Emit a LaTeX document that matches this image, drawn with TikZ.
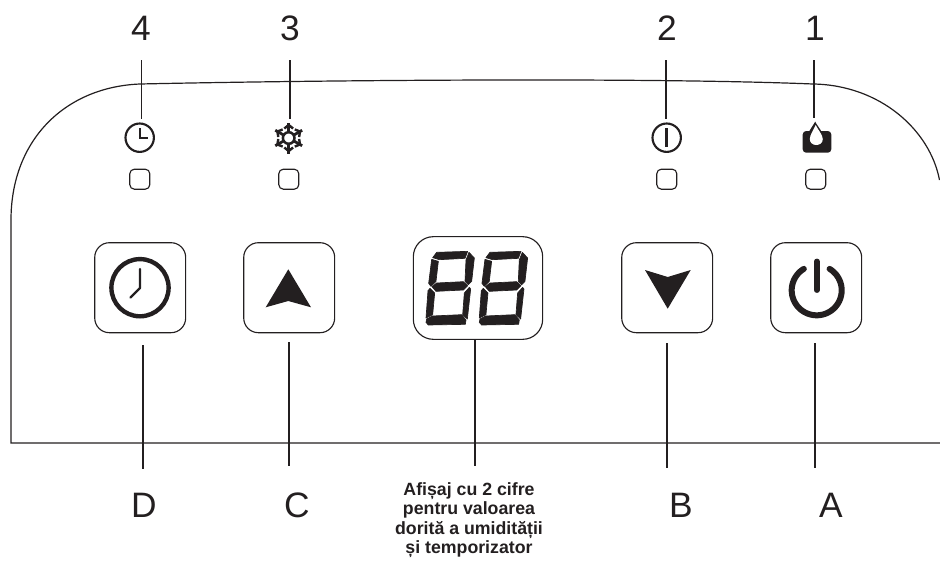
\documentclass[tikz,border=0pt]{standalone}
\usepackage{fontspec}
\setmainfont{Liberation Sans}
\definecolor{ink}{HTML}{231F20}
\tikzset{
  every path/.style={color=ink},
  thinline/.style={draw=ink,line width=0.9pt},
  keybox/.style={draw=ink,line width=0.85pt,rounded corners=11pt,minimum width=68.2pt,minimum height=67.5pt,inner sep=0pt},
  dispbox/.style={draw=ink,line width=0.85pt,rounded corners=15pt,minimum width=97pt,minimum height=77pt,inner sep=0pt},
  ledbox/.style={draw=ink,line width=0.85pt,rounded corners=3.4pt,minimum width=15pt,minimum height=15pt,inner sep=0pt},
  biglabel/.style={font=\fontsize{26.5}{30}\selectfont,text=ink,inner sep=0pt},
  caption/.style={font=\fontsize{13.3}{14.6}\selectfont\bfseries,text=ink,align=center,inner sep=0pt},
  seg/.style={fill=ink,draw=ink,line width=0.5pt,line join=round}
}
\newcommand{\sevenseg}{%
  \path[seg] (38,41)--(50,25)--(143,22)--(135,43)--(58,47)--cycle;
  \path[seg] (147,25)--(163,42)--(155,112)--(145,122)--(135,112)--(138,48)--cycle;
  \path[seg] (35,46)--(55,52)--(48,112)--(33,127)--(26,118)--cycle;
  \path[seg] (36,128)--(50,117)--(130,113)--(143,125)--(130,138)--(48,142)--cycle;
  \path[seg] (24,140)--(30,133)--(44,147)--(38,212)--(18,222)--cycle;
  \path[seg] (148,130)--(152,135)--(142,225)--(128,212)--(133,147)--cycle;
  \path[seg] (20,225)--(37,216)--(125,212)--(138,228)--(136,241)--(25,243)--(18,235)--cycle;
}
\begin{document}
\begin{tikzpicture}[x=0.75pt,y=-0.75pt]
\useasboundingbox (0,0) rectangle (940,561);
% body outline
\draw[thinline] (940,443) -- (11,443) -- (11,220)
  .. controls (11,140) and (65,87) .. (140,84)
  .. controls (300,80.5) and (640,77) .. (813,84)
  .. controls (880,85) and (930,130) .. (939.5,180);
% top labels
\node[biglabel] (n4) at (141,28) {4};
\node[biglabel] (n3) at (290,28) {3};
\node[biglabel] (n2) at (667,28) {2};
\node[biglabel] (n1) at (815,28) {1};
% keys and display
\node[keybox] (kD) at (140.2,287.7) {};
\node[keybox] (kC) at (289.2,287.7) {};
\node[dispbox] (disp) at (478,288) {};
\node[keybox] (kB) at (667.2,287.7) {};
\node[keybox] (kA) at (816.2,287.7) {};
% LEDs
\node[ledbox] (ld4) at (139.8,179.2) {};
\node[ledbox] (ld3) at (288.8,179.2) {};
\node[ledbox] (ld2) at (666.8,179.2) {};
\node[ledbox] (ld1) at (815.8,179.2) {};
% bottom labels
\node[biglabel] (lD) at (144,505) {D};
\node[biglabel] (lC) at (297,505) {C};
\node[biglabel] (lB) at (681,505) {B};
\node[biglabel] (lA) at (831,505) {A};
\node[caption] (cap) at (469,520) {Afișaj cu 2 cifre\\pentru valoarea\\dorită a umidității\\și temporizator};
% leader ends
\coordinate (t4a) at (141.7,60); \coordinate (t4b) at (141.7,119);
\coordinate (t3a) at (290,60);   \coordinate (t3b) at (290,119);
\coordinate (t2a) at (666,60);   \coordinate (t2b) at (666,119);
\coordinate (t1a) at (814,60);   \coordinate (t1b) at (814,118);
\coordinate (bDa) at (143,345);  \coordinate (bDb) at (143,469);
\coordinate (bCa) at (289,342);  \coordinate (bCb) at (289,466);
\coordinate (bMa) at (475,340);  \coordinate (bMb) at (475,466);
\coordinate (bBa) at (667,343);  \coordinate (bBb) at (667,468);
\coordinate (bAa) at (815,343);  \coordinate (bAb) at (815,468);
\foreach \a/\b in {t4a/t4b,t3a/t3b,t2a/t2b,t1a/t1b,bDa/bDb,bCa/bCb,bMa/bMb,bBa/bBb,bAa/bAb}
  \draw[thinline] (\a) -- (\b);
% small clock icon
\draw[line width=1.6pt] (139.7,137.7) circle (14.2);
\draw[line width=1.8pt] (140,128) -- (140,138) -- (147.5,138);
% snowflake icon
\draw[line width=1.9pt] (288.7,138) circle (5.8);
\foreach \ang in {30,90,150,210,270,330}{
  \begin{scope}[shift={(288.7,138)},rotate=\ang]
    \draw[line width=2.1pt] (6,0) -- (15.5,0);
    \draw[line width=1.8pt] (9.5,-4.4) -- (13,0) -- (9.5,4.4);
  \end{scope}
}
% on/off icon
\draw[line width=1.6pt] (666.7,137.7) circle (14.2);
\draw[line width=2.1pt] (666.7,128) -- (666.7,147);
% humidity icon
\fill[ink,rounded corners=2.6pt] (802.7,131) rectangle (831.3,152.7);
\fill[ink] (815.2,121.5) .. controls (817,126) and (825,134) .. (824,140) -- (807,140) .. controls (806,134) and (813,126) .. (815.2,121.5);
\fill[white] (815.7,125) .. controls (817.5,129) and (822.8,135) .. (822.8,139) .. controls (822.8,147) and (809.8,147) .. (809.8,139) .. controls (809.8,135) and (814,129) .. (815.7,125);
% big clock
\draw[line width=3.3pt] (140,287.7) circle (28.6);
\draw[line width=1.7pt,line cap=round,line join=round] (140,269) -- (140,288) -- (130.5,297.5);
% arrows
\fill[ink] (288.3,269.3) -- (311,307.3) -- (288.3,301) -- (265.7,307.3) -- cycle;
\fill[ink] (667.7,308.7) -- (690.7,270) -- (667.7,277) -- (645,270) -- cycle;
% power symbol
\draw[line width=4.5pt,line cap=round,domain=-59:239,samples=60,smooth,variable=\t] plot ({816.7+25*cos(\t)},{290.3+25*sin(\t)});
\draw[line width=4.4pt,line cap=round] (816.7,261.5) -- (816.7,290);
% display digits
\begin{scope}[shift={(420,244)},x=0.25pt,y=-0.25pt]\sevenseg\end{scope}
\begin{scope}[shift={(473.3,244)},x=0.25pt,y=-0.25pt]\sevenseg\end{scope}
\end{tikzpicture}
\end{document}
